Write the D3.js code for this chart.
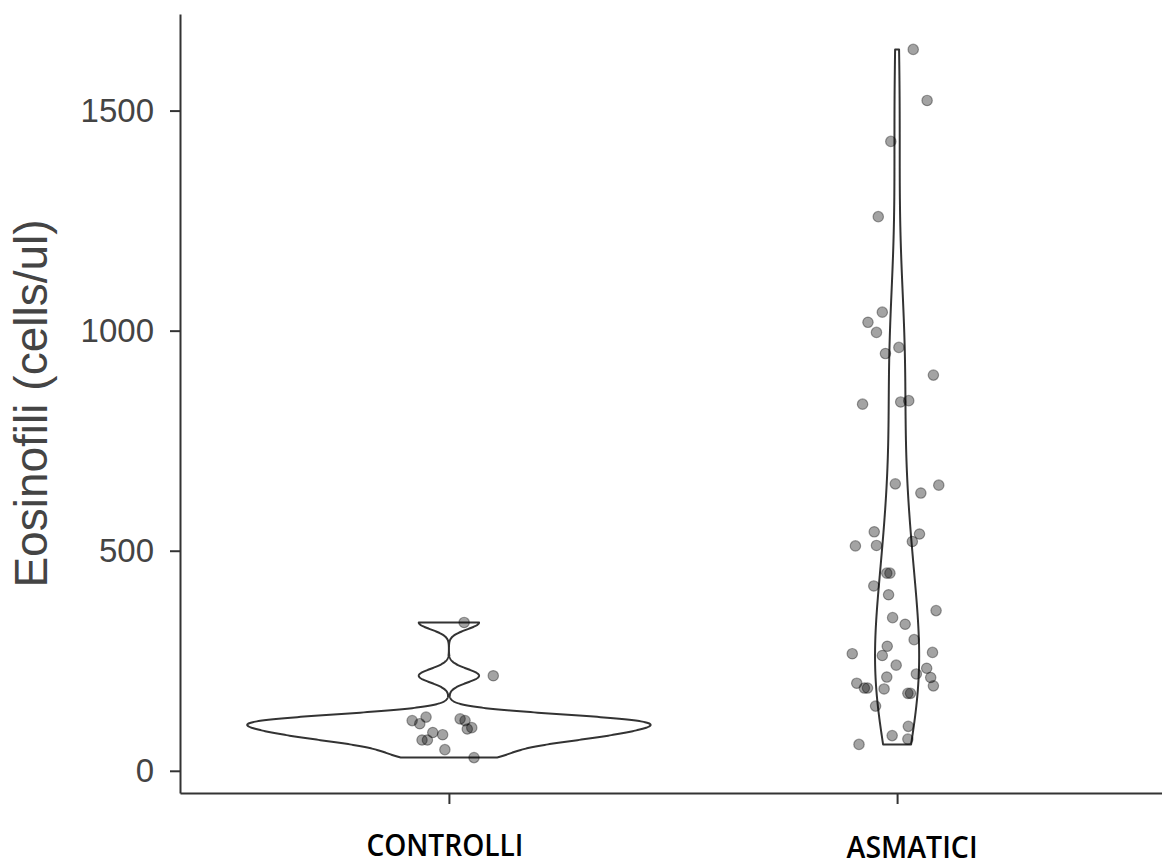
<!DOCTYPE html>
<html>
<head>
<meta charset="utf-8">
<script src="https://cdn.jsdelivr.net/npm/d3@7"></script>
<style>
  html, body { margin: 0; padding: 0; background: #fff; }
  svg { display: block; }
</style>
</head>
<body>
<svg id="chart" width="1162" height="867"></svg>
<script>
// ---- data -------------------------------------------------------------
const categories = ["CONTROLLI", "ASMATICI"];

// eosinophil counts (cells/ul) per subject
const controlliValues = [337, 216, 114, 107, 122, 118, 114, 95, 98, 87, 82, 70, 70, 48, 30];
// horizontal jitter of each point, in units of the category step
const controlliJitter = [0.034, 0.099, -0.082, -0.065, -0.051, 0.025, 0.036, 0.041, 0.051, -0.036, -0.014, -0.060, -0.048, -0.009, 0.056];

const asmaticiValues = [1639, 1523, 1430, 1259, 1042, 1019, 996, 962, 948, 899, 833, 838, 841,
  652, 631, 649, 543, 538, 521, 511, 512, 449, 449, 420, 400, 364, 348, 333, 298, 283,
  266, 262, 269, 240, 233, 213, 220, 212, 193, 199, 188, 188, 186, 176, 176, 147, 101, 80, 72, 60];
const asmaticiJitter = [0.036, 0.067, -0.014, -0.042, -0.033, -0.065, -0.046, 0.004, -0.026, 0.081, -0.077, 0.008, 0.026,
  -0.004, 0.053, 0.093, -0.051, 0.050, 0.034, -0.093, -0.046, -0.023, -0.016, -0.052, -0.019, 0.087, -0.010, 0.018, 0.038, -0.022,
  -0.100, -0.033, 0.079, -0.002, 0.066, -0.023, 0.043, 0.075, 0.081, -0.090, -0.073, -0.066, -0.029, 0.024, 0.030, -0.048, 0.025, -0.011, 0.024, -0.085];

const yTicks = [0, 500, 1000, 1500];
const yTitle = "Eosinofili (cells/ul)";

const groups = [
  { name: categories[0], values: controlliValues, jitter: controlliJitter },
  { name: categories[1], values: asmaticiValues, jitter: asmaticiJitter }
];

// ---- layout -----------------------------------------------------------
const panel = { left: 180, right: 1166, top: 14, bottom: 793 };
const svg = d3.select("#chart");

// ---- scales -----------------------------------------------------------
const allValues = groups.flatMap(g => g.values);
const [vMin, vMax] = d3.extent(allValues);
const pad = (vMax - vMin) * 0.05;
const y = d3.scaleLinear().domain([vMin - pad, vMax + pad]).range([panel.bottom, panel.top]);
const x = d3.scalePoint().domain(categories).range([panel.left, panel.right]).padding(0.6);

// ---- kernel density (gaussian, Silverman's rule of thumb) --------------
function bandwidth(v) {
  const s = d3.deviation(v);
  const sorted = v.slice().sort(d3.ascending);
  const iqr = d3.quantileSorted(sorted, 0.75) - d3.quantileSorted(sorted, 0.25);
  let lo = Math.min(s, iqr / 1.34);
  if (!(lo > 0)) lo = s || 1;
  return 0.9 * lo * Math.pow(v.length, -0.2);
}
function density(v, n = 512) {
  const bw = bandwidth(v);
  const [mn, mx] = d3.extent(v);
  const k = 1 / (v.length * bw * Math.sqrt(2 * Math.PI));
  return d3.range(n).map(i => {
    const t = mn + (mx - mn) * i / (n - 1);
    return { v: t, d: k * d3.sum(v, u => Math.exp(-0.5 * ((t - u) / bw) ** 2)) };
  });
}
groups.forEach(g => { g.dens = density(g.values); });
const maxD = d3.max(groups, g => d3.max(g.dens, p => p.d));
const halfMax = 0.45 * x.step();

// ---- violins ----------------------------------------------------------
const violins = svg.append("g");
groups.forEach(g => {
  const cx = x(g.name);
  const area = d3.area()
    .y(p => y(p.v))
    .x0(p => cx - halfMax * p.d / maxD)
    .x1(p => cx + halfMax * p.d / maxD);
  violins.append("path")
    .attr("d", area(g.dens))
    .attr("fill", "#fff")
    .attr("stroke", "#333")
    .attr("stroke-width", 2)
    .attr("stroke-linejoin", "round");
});

// ---- jittered points ---------------------------------------------------
const pts = svg.append("g");
groups.forEach(g => {
  pts.selectAll(null)
    .data(g.values.map((v, i) => ({ v, j: g.jitter[i] })))
    .join("circle")
    .attr("cx", d => x(g.name) + d.j * x.step())
    .attr("cy", d => y(d.v))
    .attr("r", 5.2)
    .attr("fill", "#000")
    .attr("fill-opacity", 0.36)
    .attr("stroke", "#000")
    .attr("stroke-opacity", 0.36)
    .attr("stroke-width", 1.2);
});

// ---- axes -------------------------------------------------------------
const yAxis = svg.append("g")
  .attr("transform", `translate(${panel.left},0)`)
  .call(d3.axisLeft(y).tickValues(yTicks).tickFormat(d3.format("d"))
    .tickSize(10).tickSizeOuter(0).tickPadding(16));
yAxis.select(".domain").attr("stroke", "#333").attr("stroke-width", 2);
yAxis.selectAll(".tick line").attr("stroke", "#333").attr("stroke-width", 2);
yAxis.selectAll(".tick text")
  .attr("fill", "#444")
  .style("font-family", "'Liberation Sans', Arial, sans-serif")
  .style("font-size", "33px");

const xAxis = svg.append("g")
  .attr("transform", `translate(0,${panel.bottom})`)
  .call(d3.axisBottom(x).tickSize(11).tickSizeOuter(0).tickFormat(""));
xAxis.select(".domain").attr("stroke", "#333").attr("stroke-width", 2);
xAxis.selectAll(".tick line").attr("stroke", "#333").attr("stroke-width", 2);

// category labels
const labelSpec = [
  { name: categories[0], dx: -4, base: 856, len: 157 },
  { name: categories[1], dx: 15, base: 858, len: 131 }
];
svg.append("g").selectAll("text")
  .data(labelSpec)
  .join("text")
  .attr("x", d => x(d.name) + d.dx)
  .attr("y", d => d.base)
  .attr("text-anchor", "middle")
  .attr("textLength", d => d.len)
  .attr("lengthAdjust", "spacingAndGlyphs")
  .attr("fill", "#000")
  .style("font-family", "'Open Sans', sans-serif")
  .style("font-weight", 600)
  .style("font-size", "30px")
  .text(d => d.name);

// y title
svg.append("text")
  .attr("transform", `translate(47,${(panel.top + panel.bottom) / 2}) rotate(-90)`)
  .attr("text-anchor", "middle")
  .attr("fill", "#444")
  .style("font-family", "'Liberation Sans', Arial, sans-serif")
  .style("font-size", "46px")
  .text(yTitle);
</script>
</body>
</html>
